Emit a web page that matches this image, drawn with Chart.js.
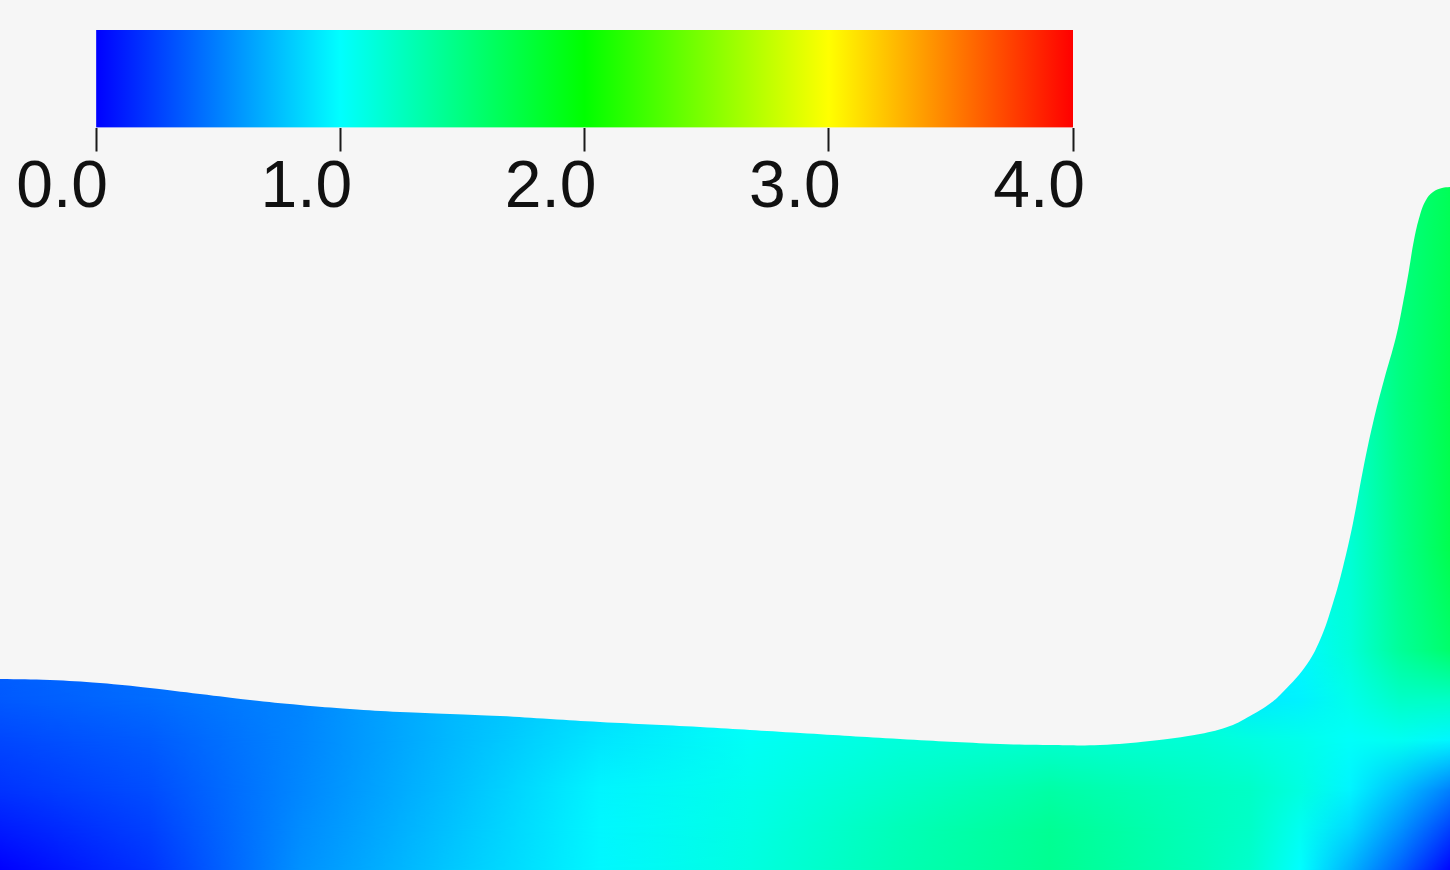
<!DOCTYPE html>
<html lang="en">
<head>
    <meta charset="UTF-8">
    <title>Scalar field</title>
    <script src="https://cdn.jsdelivr.net/npm/chart.js"></script>
    <style>
        html, body { margin: 0; padding: 0; background: #f6f6f6; overflow: hidden; }
        #field { position: absolute; left: 0; top: 0; width: 1450px; height: 870px; }
        #bar { position: absolute; left: 0; top: 0; width: 1450px; height: 240px; }
    </style>
</head>
<body>
    <div id="field"><canvas id="fieldChart"></canvas></div>
    <div id="bar"><canvas id="barChart"></canvas></div>

    <script>
        // colour map (value -> colour), same for the bar and the field
        const cmapValues = [0, 1, 2, 3, 4];
        const cmapRGB = [[0, 0, 255], [0, 255, 255], [0, 255, 0], [255, 255, 0], [255, 0, 0]];
        const barTicks = [0, 1, 2, 3, 4];

        // free surface: x position and height above the floor
        const surfaceX = [0, 50, 100, 150, 200, 250, 300, 350, 400, 450, 500, 550, 600, 700, 800, 900, 1000, 1050, 1100, 1150, 1200, 1230, 1250, 1268, 1280, 1305, 1320, 1333, 1343, 1353, 1363, 1373, 1384, 1396, 1403, 1409, 1414, 1420, 1426, 1433, 1442, 1450];
        const surfaceH = [191, 190, 187, 182, 176, 170, 165, 161, 158, 156, 154, 151, 148, 143, 137, 131, 126, 125, 125, 129, 136, 144, 154, 165, 175, 203, 230, 267, 303, 347, 400, 447, 490, 533, 567, 600, 630, 655, 670, 678, 682, 683];

        // field values read on a coarse grid: columns gridX, one array per height
        const gridX = [0, 150, 300, 450, 600, 750, 900, 1050, 1200, 1250, 1300, 1350, 1400, 1450];
        const gridH = [0, 40, 80, 130, 170, 220, 320, 470, 680];
        const valH0   = [0.00, 0.20, 0.57, 0.78, 0.97, 1.12, 1.30, 1.43, 1.28, 1.20, 1.00, 0.70, 0.38, 0.02];
        const valH40  = [0.10, 0.25, 0.55, 0.76, 0.97, 1.10, 1.28, 1.42, 1.27, 1.22, 1.05, 0.85, 0.57, 0.25];
        const valH80  = [0.20, 0.30, 0.53, 0.74, 0.96, 1.08, 1.22, 1.35, 1.25, 1.22, 1.12, 0.96, 0.75, 0.50];
        const valH130 = [0.28, 0.36, 0.52, 0.72, 0.90, 1.03, 1.14, 1.18, 1.16, 1.12, 1.08, 1.02, 1.05, 0.97];
        const valH170 = [0.35, 0.42, 0.52, 0.72, 0.85, 1.00, 1.10, 1.16, 1.12, 0.92, 0.95, 1.08, 1.22, 1.22];
        const valH220 = [0.38, 0.45, 0.55, 0.72, 0.85, 1.00, 1.10, 1.16, 1.12, 0.95, 0.98, 1.15, 1.40, 1.58];
        const valH320 = [0.40, 0.45, 0.55, 0.72, 0.85, 1.00, 1.12, 1.18, 1.15, 1.05, 1.10, 1.16, 1.45, 1.69];
        const valH470 = [0.40, 0.45, 0.55, 0.72, 0.85, 1.00, 1.12, 1.20, 1.18, 1.10, 1.15, 1.20, 1.50, 1.70];
        const valH680 = [0.40, 0.45, 0.55, 0.72, 0.85, 1.00, 1.12, 1.20, 1.18, 1.15, 1.25, 1.35, 1.50, 1.66];
        const fieldRows = [valH0, valH40, valH80, valH130, valH170, valH220, valH320, valH470, valH680];

        function valueColor(v) {
            const c = Math.max(cmapValues[0], Math.min(cmapValues[cmapValues.length - 1], v));
            let i = 0;
            while (i < cmapValues.length - 2 && c > cmapValues[i + 1]) i++;
            const t = (c - cmapValues[i]) / (cmapValues[i + 1] - cmapValues[i]);
            const a = cmapRGB[i], b = cmapRGB[i + 1];
            const m = k => Math.round(a[k] + (b[k] - a[k]) * t);
            return `rgb(${m(0)}, ${m(1)}, ${m(2)})`;
        }

        // shading for the fluid: one horizontal gradient per grid row, blended row to row
        function fieldPattern(chart) {
            const w = chart.width, h = chart.height;
            const xs = chart.scales.x, ys = chart.scales.y;
            const out = document.createElement('canvas');
            out.width = w; out.height = h;
            const octx = out.getContext('2d');
            const tmp = document.createElement('canvas');
            tmp.width = w; tmp.height = h;
            const tctx = tmp.getContext('2d');
            const x0 = xs.getPixelForValue(gridX[0]);
            const x1 = xs.getPixelForValue(gridX[gridX.length - 1]);

            for (let k = gridH.length - 1; k >= 0; k--) {
                tctx.globalCompositeOperation = 'source-over';
                tctx.clearRect(0, 0, w, h);
                const hg = tctx.createLinearGradient(x0, 0, x1, 0);
                gridX.forEach((gx, i) => {
                    hg.addColorStop((xs.getPixelForValue(gx) - x0) / (x1 - x0), valueColor(fieldRows[k][i]));
                });
                tctx.fillStyle = hg;
                tctx.fillRect(0, 0, w, h);
                if (k < gridH.length - 1) {
                    const vg = tctx.createLinearGradient(0, ys.getPixelForValue(gridH[k + 1]), 0, ys.getPixelForValue(gridH[k]));
                    vg.addColorStop(0, 'rgba(0,0,0,0)');
                    vg.addColorStop(1, 'rgba(0,0,0,1)');
                    tctx.globalCompositeOperation = 'destination-in';
                    tctx.fillStyle = vg;
                    tctx.fillRect(0, 0, w, h);
                }
                octx.drawImage(tmp, 0, 0);
            }
            return chart.ctx.createPattern(out, 'no-repeat');
        }

        new Chart(document.getElementById('fieldChart'), {
            type: 'line',
            data: {
                datasets: [{
                    label: 'fluid',
                    data: surfaceX.map((x, i) => ({ x: x, y: surfaceH[i] })),
                    fill: 'start',
                    borderColor: 'rgba(0,0,0,0)',
                    borderWidth: 1,
                    pointRadius: 0,
                    tension: 0.4,
                    backgroundColor: c => c.chart.chartArea ? fieldPattern(c.chart) : 'rgba(0,0,0,0)'
                }]
            },
            options: {
                responsive: true,
                maintainAspectRatio: false,
                animation: false,
                layout: { padding: 0 },
                plugins: { legend: { display: false }, tooltip: { enabled: false } },
                scales: {
                    x: { type: 'linear', min: 0, max: 1450, display: false },
                    y: { type: 'linear', min: 0, max: 870, display: false }
                }
            }
        });

        new Chart(document.getElementById('barChart'), {
            type: 'bar',
            data: {
                labels: ['value'],
                datasets: [{
                    data: [[barTicks[0], barTicks[barTicks.length - 1]]],
                    barPercentage: 1,
                    categoryPercentage: 1,
                    borderWidth: 0,
                    backgroundColor: c => {
                        const chart = c.chart;
                        if (!chart.chartArea) return 'rgba(0,0,0,0)';
                        const sx = chart.scales.x;
                        const p0 = sx.getPixelForValue(cmapValues[0]);
                        const p1 = sx.getPixelForValue(cmapValues[cmapValues.length - 1]);
                        const g = chart.ctx.createLinearGradient(p0, 0, p1, 0);
                        cmapValues.forEach((v, i) => g.addColorStop((sx.getPixelForValue(v) - p0) / (p1 - p0), valueColor(v)));
                        return g;
                    }
                }]
            },
            options: {
                indexAxis: 'y',
                responsive: true,
                maintainAspectRatio: false,
                animation: false,
                layout: { padding: { left: 96, right: 377, top: 30, bottom: 15 } },
                plugins: { legend: { display: false }, tooltip: { enabled: false } },
                scales: {
                    x: {
                        type: 'linear',
                        min: barTicks[0],
                        max: barTicks[barTicks.length - 1],
                        afterBuildTicks: axis => { axis.ticks = barTicks.map(v => ({ value: v })); },
                        grid: { drawOnChartArea: false, drawTicks: true, tickLength: 24, tickWidth: 2, tickColor: '#1a1a1a' },
                        border: { display: false },
                        ticks: {
                            align: 'end',
                            labelOffset: 12,
                            padding: -2,
                            maxRotation: 0,
                            color: '#111',
                            font: { family: 'Liberation Sans', size: 66 },
                            callback: v => Number(v).toFixed(1)
                        }
                    },
                    y: { display: false }
                }
            }
        });
    </script>
</body>
</html>
